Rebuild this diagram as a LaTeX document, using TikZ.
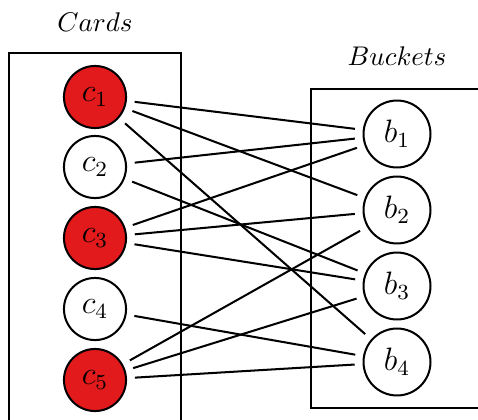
\documentclass[tikz,border=0pt]{standalone}
\usetikzlibrary{positioning}
\definecolor{cardred}{RGB}{227,26,28}
\tikzset{
  frame/.style={draw=black, line width=0.75pt},
  card/.style={circle, draw=black, line width=0.75pt, minimum size=23pt, inner sep=0pt, outer sep=3.3pt, font=\large},
  marked/.style={card, fill=cardred},
  bucket/.style={circle, draw=black, line width=0.75pt, minimum size=24.8pt, inner sep=0pt, outer sep=3.3pt, font=\large},
  link/.style={draw=black, line width=0.75pt},
  title/.style={font=\normalsize}
}
\begin{document}
\begin{tikzpicture}[x=0.3704pt, y=-0.3704pt]
  \useasboundingbox (0,0) rectangle (478,419);
  \clip (0,0) rectangle (478,419);
  % group frames
  \draw[frame] (9,440) -- (9,53) -- (181,53) -- (181,440);
  \draw[frame] (500,89) -- (311,89) -- (311,408) -- (500,408);
  \node[title] (tc) at (95,22) {$Cards$};
  \node[title] (tb) at (397,56) {$Buckets$};
  % cards
  \node[marked] (c1) at (95,97)  {$c_1$};
  \node[card]   (c2) at (95,167) {$c_2$};
  \node[marked] (c3) at (95,238) {$c_3$};
  \node[card]   (c4) at (95,309) {$c_4$};
  \node[marked] (c5) at (95,380) {$c_5$};
  % buckets
  \node[bucket] (b1) at (397,134) {$b_1$};
  \node[bucket] (b2) at (397,210) {$b_2$};
  \node[bucket] (b3) at (397,286) {$b_3$};
  \node[bucket] (b4) at (397,362) {$b_4$};
  % assignments
  \draw[link] (c1) -- (b1);
  \draw[link] (c1) -- (b2);
  \draw[link] (c1) -- (b4);
  \draw[link] (c2) -- (b1);
  \draw[link] (c2) -- (b3);
  \draw[link] (c3) -- (b1);
  \draw[link] (c3) -- (b2);
  \draw[link] (c3) -- (b3);
  \draw[link] (c4) -- (b4);
  \draw[link] (c5) -- (b2);
  \draw[link] (c5) -- (b3);
  \draw[link] (c5) -- (b4);
\end{tikzpicture}
\end{document}
